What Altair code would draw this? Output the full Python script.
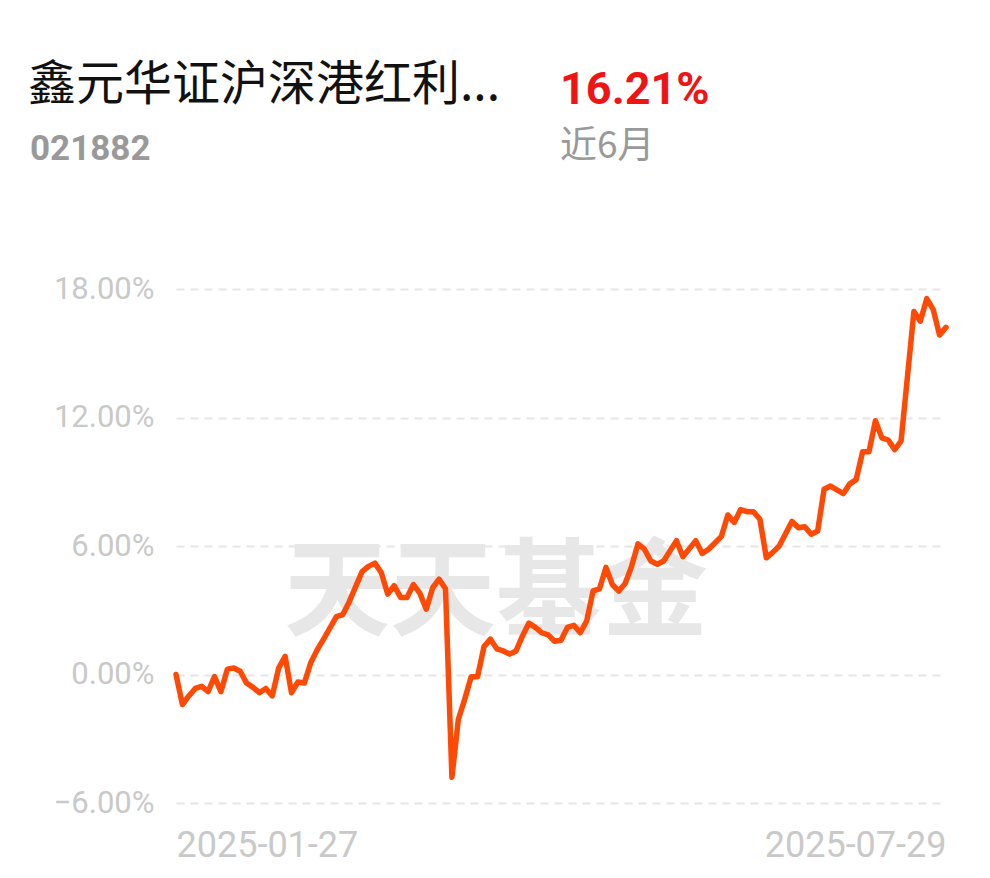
import altair as alt
import pandas as pd

# ---- data ----
fund_name = "鑫元华证沪深港红利..."
fund_code = "021882"
period_return = "16.21%"
period_label = "近6月"
watermark = "天天基金"

x_labels = ["2025-01-27", "2025-07-29"]
last_day = 120
y_ticks = [-6, 0, 6, 12, 18]

days = [0, 1, 2, 3, 4, 5, 6, 7, 8, 9,
        10, 11, 12, 13, 14, 15, 16, 17, 18, 19,
        20, 21, 22, 23, 25, 26, 27, 29, 30, 31,
        32, 33, 34, 35, 36, 37, 38, 39, 40, 41,
        42, 43, 44, 45, 46, 47, 48, 49, 50, 51,
        52, 53, 54, 55, 56, 57, 58, 59, 60, 61,
        62, 63, 64, 65, 66, 67, 68, 69, 70, 71,
        72, 73, 74, 75, 76, 78, 79, 81, 82, 83,
        85, 86, 87, 88, 89, 90, 91, 92, 93, 94,
        96, 97, 98, 99, 100, 101, 102, 104, 105, 106,
        107, 108, 109, 110, 111, 112, 113, 115, 116, 117,
        118, 119, 120]

returns = [0.0, -1.4, -1.0, -0.65, -0.55, -0.8, -0.1, -0.8, 0.25, 0.3,
           0.15, -0.4, -0.6, -0.85, -0.65, -1.0, 0.3, 0.85, -0.85, -0.35,
           -0.4, 0.55, 1.15, 1.65, 2.7, 2.8, 3.4, 4.8, 5.05, 5.2,
           4.75, 3.75, 4.15, 3.6, 3.6, 4.2, 3.8, 3.05, 4.05, 4.45,
           4.0, -4.8, -2.1, -1.15, -0.1, -0.1, 1.3, 1.65, 1.2, 1.1,
           0.95, 1.1, 1.8, 2.4, 2.2, 1.95, 1.85, 1.55, 1.6, 2.2,
           2.3, 1.95, 2.5, 3.9, 4.0, 5.0, 4.2, 3.9, 4.25, 5.05,
           6.1, 5.85, 5.3, 5.15, 5.3, 6.25, 5.5, 6.25, 5.65, 5.85,
           6.45, 7.45, 7.1, 7.7, 7.6, 7.6, 7.25, 5.45, 5.7, 6.0,
           7.15, 6.85, 6.9, 6.55, 6.7, 8.65, 8.8, 8.45, 8.9, 9.1,
           10.4, 10.4, 11.85, 11.05, 10.95, 10.5, 10.9, 16.95, 16.5, 17.55,
           17.05, 15.85, 16.21]

df = pd.DataFrame({"day": days, "ret": returns})

W, H = 770, 514
GREY = "#c9c9c9"

x_scale = alt.Scale(domain=[0, last_day], nice=False, zero=False)
y_scale = alt.Scale(domain=[min(y_ticks), max(y_ticks)], nice=False, zero=False)

x_label_expr = f"datum.value == 0 ? '{x_labels[0]}' : '{x_labels[1]}'"

line = alt.Chart(df).mark_line(
    color="#ff4a05", strokeWidth=5.5, strokeJoin="round", strokeCap="round"
).encode(
    x=alt.X("day:Q", scale=x_scale,
            axis=alt.Axis(values=[0, last_day], labelExpr=x_label_expr, labelFlush=True,
                          grid=False, domain=False, ticks=False, title=None,
                          labelFont="Roboto", labelFontSize=36, labelColor=GREY,
                          labelPadding=25, labelLimit=0)),
    y=alt.Y("ret:Q", scale=y_scale,
            axis=alt.Axis(values=y_ticks, labelExpr="format(datum.value, '.2f') + '%'",
                          grid=True, gridDash=[8, 6], gridColor="#e6e6e6", gridWidth=2,
                          domain=False, ticks=False, title=None,
                          labelFont="Roboto", labelFontSize=31, labelColor=GREY,
                          labelPadding=22, labelLimit=0)),
)

wm = alt.Chart(pd.DataFrame({"t": [watermark]})).mark_text(
    font="Noto Sans CJK SC", fontSize=106, fontWeight="bold", color="#e7e7e7",
    align="center", baseline="middle"
).encode(x=alt.value(320), y=alt.value(306), text="t:N")

def label(txt, x, y, size, color, weight="normal", font="Noto Sans CJK SC"):
    return alt.Chart(pd.DataFrame({"t": [txt]})).mark_text(
        font=font, fontSize=size, fontWeight=weight, color=color,
        align="left", baseline="alphabetic"
    ).encode(x=alt.value(x), y=alt.value(y), text="t:N")

t1 = label(fund_name, -148, -189, 48, "#111111")
t2 = label(period_return, 384, -185, 45, "#f01515", "bold", "Roboto")
t3 = label(fund_code, -146, -129, 35, "#999999", "bold", "Roboto")
t4 = label(period_label, 384, -131, 37, "#999999")

chart = alt.layer(wm, line, t1, t2, t3, t4).properties(
    width=W, height=H,
    autosize=alt.AutoSizeParams(type="none"),
    padding={"left": 168, "top": 281, "right": 36, "bottom": 66},
).configure_view(stroke=None)

chart.save("out.html", embed_options={"renderer": "svg", "actions": False})
